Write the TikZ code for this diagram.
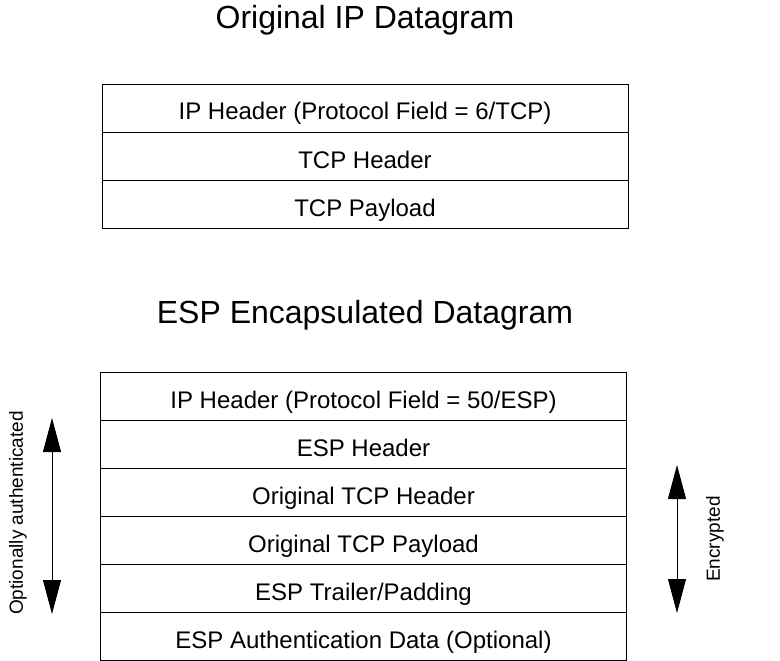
\documentclass[tikz,border=0pt]{standalone}
\usepackage{fontspec}
\setmainfont{Liberation Sans}
\usetikzlibrary{arrows.meta,positioning}

\begin{document}
\begin{tikzpicture}[
	x=1pt, y=-1pt,
	field/.style={
		rectangle, draw=black, line width=0.9pt, outer sep=0pt,
		minimum width=526pt, minimum height=48pt, inner sep=0pt,
		text height=24pt, text depth=0pt,
		font=\fontsize{24}{28}\selectfont
	},
	title/.style={anchor=base, font=\fontsize{32}{36}\selectfont},
	span/.style={{Triangle[length=34pt,width=18pt]}-{Triangle[length=34pt,width=18pt]}, line width=0.9pt},
	side/.style={rotate=90, font=\fontsize{19}{22}\selectfont}
	]
	\useasboundingbox (0,0) rectangle (780,661);
	%% --- original datagram ---
	\node[title] (origtitle) at (365,29) {Original IP Datagram};
	\node[field] (ip) at (365,108) {IP Header (Protocol Field = 6/TCP)};
	\node[field, below=0pt of ip] (tcph) {TCP Header};
	\node[field, below=0pt of tcph] (tcpp) {TCP Payload};
	
	%% --- ESP encapsulated datagram ---
	\node[title] (esptitle) at (365,323) {ESP Encapsulated Datagram};
	\node[field] (espip) at (363.5,396) {IP Header (Protocol Field = 50/ESP)};
	\node[field, below=0pt of espip] (esph) {ESP Header};
	\node[field, below=0pt of esph] (otcph) {Original TCP Header};
	\node[field, below=0pt of otcph] (otcpp) {Original TCP Payload};
	\node[field, below=0pt of otcpp] (espt) {ESP Trailer/Padding};
	\node[field, below=0pt of espt] (espa) {ESP Authentication Data (Optional)};
	
	% authenticated / encrypted spans
	\coordinate (authtop) at (52,418);
	\coordinate (authbot) at (52,614);
	\draw[span] (authtop) -- (authbot);
	\node[side] (authlbl) at (18,513) {Optionally authenticated};
	\coordinate (enctop) at (677,465);
	\coordinate (encbot) at (677,613);
	\draw[span] (enctop) -- (encbot);
	\node[side] (enclbl) at (715,539) {Encrypted};
\end{tikzpicture}
\end{document}
